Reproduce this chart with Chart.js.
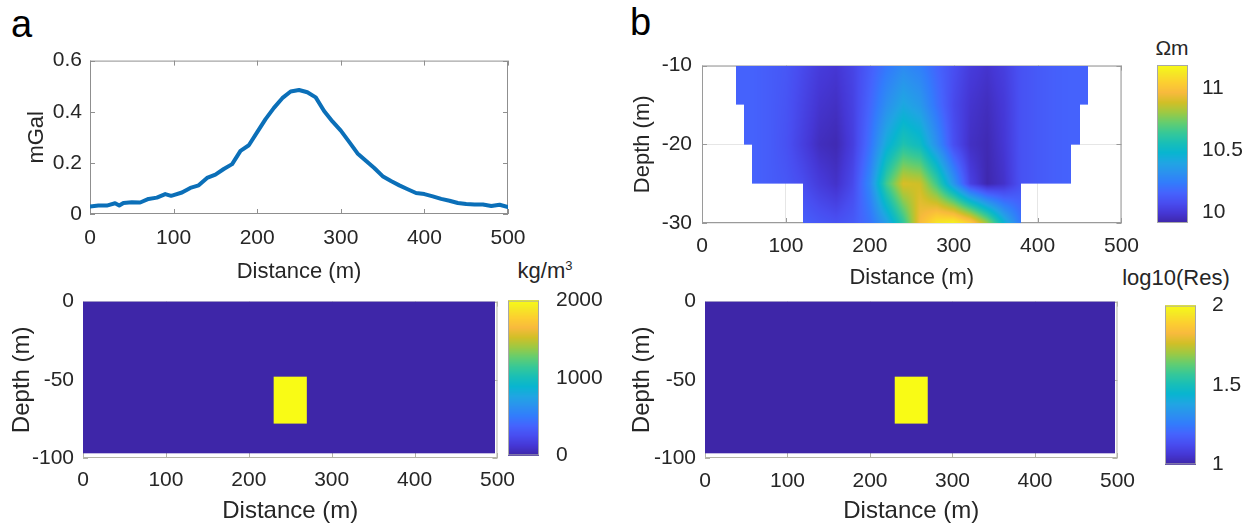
<!DOCTYPE html>
<html>
<head>
<meta charset="utf-8">
<script src="https://cdn.jsdelivr.net/npm/chart.js@4.4.1/dist/chart.umd.min.js"></script>
<style>
  html, body { margin: 0; padding: 0; overflow: hidden; }
  body { width: 1243px; height: 527px; background: #fff; position: relative;
         font-family: 'Liberation Sans', Arial, Helvetica, sans-serif; color: #262626; }
  canvas { position: absolute; }
  .txt { position: absolute; white-space: nowrap; line-height: 1; }
  .mid { transform: translate(-50%, -50%); }
</style>
</head>
<body>
<div class="txt" style="left:11px;top:5px;font-size:38px;color:#000">a</div>
<div class="txt" style="left:630px;top:3px;font-size:38px;color:#000">b</div>
<div class="txt mid" style="left:545px;top:270px;font-size:22px">kg/m<sup style="font-size:13px;vertical-align:8px">3</sup></div>
<div class="txt mid" style="left:1172px;top:47px;font-size:21px">Ωm</div>
<div class="txt mid" style="left:1176px;top:278px;font-size:22px">log10(Res)</div>

<canvas id="grav"></canvas>
<canvas id="density"></canvas>
<canvas id="densityBar"></canvas>
<canvas id="resSection"></canvas>
<canvas id="resBar"></canvas>
<canvas id="logRes"></canvas>
<canvas id="logResBar"></canvas>

<script>
// gravity anomaly along the profile (mGal)
const gravDist = [0, 10, 20, 30, 35, 40, 50, 60, 70, 80, 90, 97, 100, 110, 120, 130, 140, 150, 160, 170,
  180, 190, 200, 210, 220, 230, 240, 250, 260, 270, 280, 290, 300, 310, 320, 330, 340, 350, 360, 370,
  380, 390, 400, 410, 420, 430, 440, 450, 460, 470, 480, 490, 500];
const gravAnom = [0.029, 0.033, 0.033, 0.042, 0.033, 0.043, 0.046, 0.045, 0.059, 0.064, 0.078, 0.071, 0.074,
  0.084, 0.102, 0.112, 0.141, 0.154, 0.176, 0.195, 0.247, 0.269, 0.32, 0.371, 0.415, 0.453, 0.479, 0.485,
  0.476, 0.456, 0.403, 0.362, 0.326, 0.282, 0.237, 0.208, 0.18, 0.148, 0.129, 0.112, 0.097, 0.082, 0.078,
  0.069, 0.059, 0.052, 0.043, 0.039, 0.037, 0.037, 0.031, 0.036, 0.027];

const distTicks = [0, 100, 200, 300, 400, 500];
const gravTicks = [0, 0.2, 0.4, 0.6];
const depthTicks = [-100, -50, 0];
const resDepthTicks = [-30, -20, -10];

// synthetic model: host cells, then the buried block
const modelX = [[0, 497], [230, 270]];
const modelDepth = [[-97, 0], [-78, -48]];
const densityVals = [0, 2000];
const logResVals = [1, 2];
const densityRange = [0, 2000];
const densityTicks = [0, 1000, 2000];
const logResRange = [1, 2];
const logResTicks = [1, 1.5, 2];

// inverted resistivity section, nodes every 20 m along the line
const resX = [40, 60, 80, 100, 120, 140, 160, 180, 200, 220, 240, 260, 280, 300, 320, 340, 360, 380, 400, 420, 440, 460];
const resDepth = [-10, -15, -20, -25, -30];
const resAt10 = [10.15, 10.15, 10.13, 10.11, 10.06, 10.01, 9.99, 10.04, 10.13, 10.22, 10.29, 10.25, 10.16, 10.08, 10.01, 9.98, 10.02, 10.09, 10.12, 10.14, 10.15, 10.15];
const resAt15 = [10.15, 10.15, 10.13, 10.10, 10.04, 9.98, 9.96, 10.03, 10.16, 10.31, 10.41, 10.35, 10.20, 10.06, 9.98, 9.95, 10.00, 10.09, 10.12, 10.14, 10.15, 10.15];
const resAt20 = [10.15, 10.15, 10.13, 10.09, 10.02, 9.95, 9.93, 10.02, 10.20, 10.44, 10.58, 10.52, 10.31, 10.08, 9.96, 9.93, 9.99, 10.09, 10.12, 10.14, 10.15, 10.15];
const resAt25 = [10.15, 10.15, 10.13, 10.11, 10.07, 10.01, 9.97, 10.06, 10.28, 10.66, 10.90, 10.88, 10.65, 10.34, 10.03, 9.92, 9.97, 10.09, 10.12, 10.14, 10.15, 10.15];
const resAt30 = [10.15, 10.15, 10.15, 10.15, 10.14, 10.11, 10.09, 10.12, 10.20, 10.37, 10.62, 10.97, 11.12, 11.16, 11.05, 10.80, 10.47, 10.22, 10.15, 10.15, 10.15, 10.15];
const resGrid = [resAt10, resAt15, resAt20, resAt25, resAt30];
// stepped coverage of the section
const coverTop = [-10, -15, -20, -25];
const coverBottom = [-15, -20, -25, -30];
const coverLeft = [40, 50, 60, 120];
const coverRight = [460, 450, 440, 380];
const resRange = [9.91, 11.19];
const resTicks = [10, 10.5, 11];

Chart.defaults.font.family = "'Liberation Sans', Arial, Helvetica, sans-serif";
Chart.defaults.color = '#262626';

// parula colour map, sampled stops
const parulaPos = [0, 4, 8, 12, 16, 20, 24, 28, 32, 36, 40, 44, 48, 52, 56, 60, 63];
const parulaRGB = [[62, 38, 168], [69, 55, 213], [72, 77, 240], [69, 99, 253], [50, 124, 252], [43, 145, 239],
  [32, 165, 227], [8, 181, 208], [25, 191, 182], [55, 200, 151], [100, 205, 111], [157, 201, 67],
  [209, 191, 39], [248, 186, 61], [252, 207, 48], [245, 233, 36], [249, 251, 21]];
function parula(t) {
  const u = Math.min(1, Math.max(0, t)) * 63;
  let k = 0;
  while (k < parulaPos.length - 2 && u > parulaPos[k + 1]) k++;
  const f = (u - parulaPos[k]) / (parulaPos[k + 1] - parulaPos[k]);
  const a = parulaRGB[k], b = parulaRGB[k + 1];
  return [0, 1, 2].map(i => Math.round(a[i] + (b[i] - a[i]) * f));
}
const rgb = c => `rgb(${c[0]},${c[1]},${c[2]})`;

function place(id, left, top, w, h) {
  const c = document.getElementById(id);
  c.width = w; c.height = h;
  c.style.left = left + 'px'; c.style.top = top + 'px';
  c.style.width = w + 'px'; c.style.height = h + 'px';
  return c;
}

function axis(pos, min, max, tickVals, o) {
  return {
    type: 'linear', position: pos, min: min, max: max,
    afterBuildTicks: s => { s.ticks = tickVals.map(v => ({ value: v })); },
    afterFit: s => { if (pos === 'bottom') s.height = o.size; else s.width = o.size; },
    grid: { display: !!o.grid, color: '#e6e6e6', drawTicks: false },
    border: { display: false },
    ticks: { padding: o.pad, autoSkip: false, maxRotation: 0, font: { size: 21 }, callback: v => String(v) },
    title: { display: true, text: o.title, font: { size: o.titleSize }, padding: o.titlePad }
  };
}

// axes box with inward tick marks
function frame(color) {
  return {
    id: 'frame',
    beforeDatasetsDraw(chart) {
      const { ctx, chartArea: a, scales: { x, y } } = chart;
      ctx.save();
      ctx.strokeStyle = color;
      ctx.lineWidth = 1;
      ctx.strokeRect(a.left + 0.5, a.top + 0.5, a.width - 1, a.height - 1);
      ctx.beginPath();
      x.ticks.forEach(t => {
        const p = Math.round(x.getPixelForValue(t.value)) + 0.5;
        ctx.moveTo(p, a.bottom); ctx.lineTo(p, a.bottom - 5);
        ctx.moveTo(p, a.top); ctx.lineTo(p, a.top + 5);
      });
      y.ticks.forEach(t => {
        const p = Math.round(y.getPixelForValue(t.value)) + 0.5;
        ctx.moveTo(a.left, p); ctx.lineTo(a.left + 5, p);
        ctx.moveTo(a.right, p); ctx.lineTo(a.right - 5, p);
      });
      ctx.stroke();
      ctx.restore();
    }
  };
}

// model cells painted through the scales
function blocks(vals, range) {
  return {
    id: 'blocks',
    beforeDatasetsDraw(chart) {
      const { ctx, scales: { x, y } } = chart;
      modelX.forEach((xr, k) => {
        const x0 = x.getPixelForValue(xr[0]), x1 = x.getPixelForValue(xr[1]);
        const y0 = y.getPixelForValue(modelDepth[k][1]), y1 = y.getPixelForValue(modelDepth[k][0]);
        ctx.fillStyle = rgb(parula((vals[k] - range[0]) / (range[1] - range[0])));
        ctx.fillRect(x0, y0, x1 - x0, y1 - y0);
      });
    }
  };
}

function sampleRes(xv, d) {
  let i = 0;
  while (i < resX.length - 2 && xv > resX[i + 1]) i++;
  let j = 0;
  while (j < resDepth.length - 2 && d < resDepth[j + 1]) j++;
  const fx = Math.min(1, Math.max(0, (xv - resX[i]) / (resX[i + 1] - resX[i])));
  const fy = Math.min(1, Math.max(0, (d - resDepth[j]) / (resDepth[j + 1] - resDepth[j])));
  const top = resGrid[j][i] * (1 - fx) + resGrid[j][i + 1] * fx;
  const bot = resGrid[j + 1][i] * (1 - fx) + resGrid[j + 1][i + 1] * fx;
  return top * (1 - fy) + bot * fy;
}

// interpolated resistivity image inside the stepped coverage
const resImage = {
  id: 'resImage',
  beforeDatasetsDraw(chart) {
    const { ctx, chartArea: a, scales: { x, y } } = chart;
    const w = Math.round(a.width), h = Math.round(a.height);
    const off = document.createElement('canvas');
    off.width = w; off.height = h;
    const octx = off.getContext('2d');
    const img = octx.createImageData(w, h);
    for (let j = 0; j < h; j++) {
      const d = y.getValueForPixel(a.top + j + 0.5);
      let band = -1;
      for (let k = 0; k < coverTop.length; k++) {
        if (d <= coverTop[k] && d >= coverBottom[k]) { band = k; break; }
      }
      if (band < 0) continue;
      for (let i = 0; i < w; i++) {
        const xv = x.getValueForPixel(a.left + i + 0.5);
        if (xv < coverLeft[band] || xv > coverRight[band]) continue;
        const c = parula((sampleRes(xv, d) - resRange[0]) / (resRange[1] - resRange[0]));
        const p = (j * w + i) * 4;
        img.data[p] = c[0]; img.data[p + 1] = c[1]; img.data[p + 2] = c[2]; img.data[p + 3] = 255;
      }
    }
    octx.putImageData(img, 0, 0);
    ctx.drawImage(off, a.left, a.top);
  }
};

function colorbar(id, left, top, h, range, ticks, pad) {
  const paint = {
    id: 'paint',
    beforeDatasetsDraw(chart) {
      const { ctx, chartArea: a, scales: { y } } = chart;
      for (let py = Math.floor(a.top); py < a.bottom; py++) {
        const v = y.getValueForPixel(py + 0.5);
        ctx.fillStyle = rgb(parula((v - range[0]) / (range[1] - range[0])));
        ctx.fillRect(a.left, py, a.width, 1);
      }
      ctx.strokeStyle = '#a8a8a8';
      ctx.lineWidth = 1;
      ctx.strokeRect(a.left + 0.5, a.top + 0.5, a.width - 1, a.height - 1);
    }
  };
  new Chart(place(id, left, top - 20, 101, h + 40), {
    type: 'scatter',
    data: { datasets: [] },
    options: {
      responsive: false, animation: false, events: [],
      layout: { padding: { top: 20, bottom: 20, left: 0, right: 0 } },
      plugins: { legend: { display: false }, tooltip: { enabled: false } },
      scales: {
        x: { type: 'linear', display: false },
        y: {
          type: 'linear', position: 'right', min: range[0], max: range[1],
          afterBuildTicks: s => { s.ticks = ticks.map(v => ({ value: v })); },
          afterFit: s => { s.width = 70; },
          grid: { display: false }, border: { display: false },
          ticks: { padding: pad, autoSkip: false, font: { size: 21 }, callback: v => String(v) }
        }
      }
    },
    plugins: [paint]
  });
}

const baseOpts = {
  responsive: false, animation: false, events: [],
  plugins: { legend: { display: false }, tooltip: { enabled: false } }
};

// a, top: gravity profile
new Chart(place('grav', 0, 40, 540, 250), {
  type: 'line',
  data: { datasets: [{
    data: gravDist.map((d, i) => ({ x: d, y: gravAnom[i] })),
    borderColor: '#0b6fb8', borderWidth: 4, pointRadius: 0, tension: 0,
    borderJoinStyle: 'round', borderCapStyle: 'round', fill: false
  }] },
  options: Object.assign({}, baseOpts, {
    layout: { padding: { top: 20, right: 32, left: 0, bottom: 0 } },
    scales: {
      x: axis('bottom', 0, 500, distTicks, { size: 76, pad: 12, title: 'Distance (m)', titleSize: 22, titlePad: { top: 0, bottom: 5 } }),
      y: axis('left', 0, 0.6, gravTicks, { size: 90, pad: 8, title: 'mGal', titleSize: 22, titlePad: { top: 24, bottom: 0 } })
    }
  }),
  plugins: [frame('#8f8f8f')]
});

// a, bottom: density model
new Chart(place('density', 0, 280, 525, 247), {
  type: 'scatter',
  data: { datasets: [] },
  options: Object.assign({}, baseOpts, {
    layout: { padding: { top: 20, right: 25, left: 0, bottom: 0 } },
    scales: {
      x: axis('bottom', 0, 500, distTicks, { size: 69, pad: 10, title: 'Distance (m)', titleSize: 24, titlePad: { top: 0, bottom: 1 } }),
      y: axis('left', -100, 0, depthTicks, { size: 83, pad: 9, title: 'Depth (m)', titleSize: 24, titlePad: { top: 8, bottom: 0 } })
    }
  }),
  plugins: [frame('#b4b4a8'), blocks(densityVals, densityRange)]
});
colorbar('densityBar', 508, 299, 158, densityRange, densityTicks, 9);

// b, top: resistivity section
new Chart(place('resSection', 620, 43, 530, 252), {
  type: 'scatter',
  data: { datasets: [] },
  options: Object.assign({}, baseOpts, {
    layout: { padding: { top: 20, right: 28, left: 0, bottom: 0 } },
    scales: {
      x: axis('bottom', 0, 500, distTicks, { size: 72, pad: 11, grid: true, title: 'Distance (m)', titleSize: 22, titlePad: { top: 0, bottom: 4 } }),
      y: axis('left', -30, -10, resDepthTicks, { size: 82, pad: 10, grid: true, title: 'Depth (m)', titleSize: 22, titlePad: { top: 10, bottom: 0 } })
    }
  }),
  plugins: [frame('#9a9a9a'), resImage]
});
colorbar('resBar', 1157, 65, 158, resRange, resTicks, 6);

// b, bottom: resistivity model
new Chart(place('logRes', 620, 280, 526, 247), {
  type: 'scatter',
  data: { datasets: [] },
  options: Object.assign({}, baseOpts, {
    layout: { padding: { top: 20, right: 25, left: 0, bottom: 0 } },
    scales: {
      x: axis('bottom', 0, 500, distTicks, { size: 69, pad: 11, title: 'Distance (m)', titleSize: 24, titlePad: { top: 0, bottom: 1 } }),
      y: axis('left', -100, 0, depthTicks, { size: 85, pad: 9, title: 'Depth (m)', titleSize: 24, titlePad: { top: 8, bottom: 0 } })
    }
  }),
  plugins: [frame('#b4b4a8'), blocks(logResVals, logResRange)]
});
colorbar('logResBar', 1165, 305, 160, logResRange, logResTicks, 8);
</script>
</body>
</html>
